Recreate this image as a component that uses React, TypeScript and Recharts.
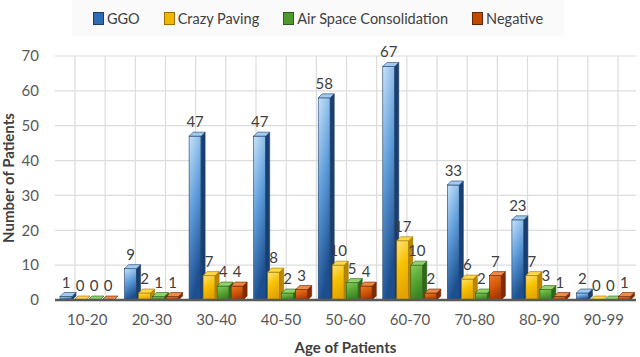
import { BarChart, Bar, XAxis, YAxis, CartesianGrid, LabelList } from "recharts";

const ageGroups = ["10-20", "20-30", "30-40", "40-50", "50-60", "60-70", "70-80", "80-90", "90-99"];
const ggo = [1, 9, 47, 47, 58, 67, 33, 23, 2];
const crazyPaving = [0, 2, 7, 8, 10, 17, 6, 7, 0];
const airSpace = [0, 1, 4, 2, 5, 10, 2, 3, 0];
const negative = [0, 1, 4, 3, 4, 2, 7, 1, 1];
const yTicks = [0, 10, 20, 30, 40, 50, 60, 70];

const data = ageGroups.map((age, i) => ({
  age,
  ggo: ggo[i],
  crazy: crazyPaving[i],
  air: airSpace[i],
  neg: negative[i],
}));

const series = [
  { key: "ggo", name: "GGO", stops: ["#c6e3fb", "#5d9bd9", "#1d4f8f"], top: "#a2cbef", side: "#173f72", stroke: "#1e3d66", icon: "#2e6db4" },
  { key: "crazy", name: "Crazy Paving", stops: ["#ffe27a", "#f7c200", "#e3a200"], top: "#ffd84a", side: "#b98600", stroke: "#9a7000", icon: "#f2b800" },
  { key: "air", name: "Air Space Consolidation", stops: ["#86cc5c", "#5aa836", "#3a8420"], top: "#8fd468", side: "#2e6818", stroke: "#2d5e18", icon: "#4e9a2e" },
  { key: "neg", name: "Negative", stops: ["#ec7a26", "#d45a0a", "#a83600"], top: "#ee8a48", side: "#842a00", stroke: "#6a2400", icon: "#c04a00" },
];

const font = "Lato, 'Open Sans', sans-serif";
const DEPTH = 4;

function bar3d(idx: number) {
  const s = series[idx];
  return (props: any) => {
    const { x, y, width: w, height } = props;
    const h = Math.max(0, height || 0);
    const d = DEPTH;
    return (
      <g>
        {h > 0 && (
          <rect x={x} y={y} width={w} height={h} fill={`url(#grad-${s.key})`} stroke={s.stroke} strokeWidth={0.6} />
        )}
        {h > 0 && (
          <polygon
            points={`${x + w},${y} ${x + w + d},${y - d} ${x + w + d},${y + h - d} ${x + w},${y + h}`}
            fill={s.side}
            stroke={s.stroke}
            strokeWidth={0.6}
          />
        )}
        <polygon
          points={`${x},${y} ${x + w},${y} ${x + w + d},${y - d} ${x + d},${y - d}`}
          fill={s.top}
          stroke={s.stroke}
          strokeWidth={0.6}
        />
      </g>
    );
  };
}

export default function App() {
  return (
    <div style={{ position: "absolute", left: 0, top: 0, width: 640, height: 357, background: "#fff", fontFamily: font }}>
      <div
        style={{
          position: "absolute",
          left: 72,
          top: 0,
          width: 492,
          height: 36,
          background: "#fafafa",
          display: "flex",
          alignItems: "center",
          justifyContent: "center",
          gap: 24,
          fontSize: 14.5,
          color: "#404040",
        }}
      >
        {series.map((s) => (
          <div key={s.key} style={{ display: "flex", alignItems: "center", gap: 3 }}>
            <span style={{ display: "inline-block", width: 9, height: 11, background: s.icon, border: `1px solid ${s.stroke}` }} />
            <span>{s.name}</span>
          </div>
        ))}
      </div>
      <BarChart
        width={640}
        height={357}
        data={data}
        margin={{ top: 56, right: 4, left: 0, bottom: 0 }}
        barSize={12}
        barGap={2}
      >
        <defs>
          {series.map((s) => (
            <linearGradient key={s.key} id={`grad-${s.key}`} x1="0" y1="0" x2="0.3" y2="1">
              <stop offset="0%" stopColor={s.stops[0]} />
              <stop offset="50%" stopColor={s.stops[1]} />
              <stop offset="100%" stopColor={s.stops[2]} />
            </linearGradient>
          ))}
        </defs>
        <CartesianGrid
          stroke="#dcdcdc"
          strokeWidth={1.2}
          verticalCoordinatesGenerator={({ offset }: any) => {
            const l = offset.left + 20;
            const r = offset.left + offset.width - 18;
            return Array.from({ length: 19 }, (_, i) => l + (i * (r - l)) / 18);
          }}
        />
        <XAxis
          dataKey="age"
          height={57}
          tickLine={false}
          axisLine={{ stroke: "#595959", strokeWidth: 2.5 }}
          tickMargin={8}
          tick={{ fill: "#595959", fontSize: 15, fontFamily: font }}
          label={{
            value: "Age of Patients",
            position: "insideBottom",
            offset: 4,
            fill: "#404040",
            fontSize: 15,
            fontWeight: 700,
            fontFamily: font,
          }}
        />
        <YAxis
          width={55}
          domain={[0, 70]}
          ticks={yTicks}
          tickLine={false}
          axisLine={false}
          tickMargin={10}
          tick={{ fill: "#595959", fontSize: 15, fontFamily: font }}
          label={{
            value: "Number of Patients",
            angle: -90,
            position: "insideLeft",
            offset: 9,
            fill: "#404040",
            fontSize: 15,
            fontWeight: 700,
            fontFamily: font,
            style: { textAnchor: "middle" },
          }}
        />
        {series.map((s, i) => (
          <Bar key={s.key} dataKey={s.key} name={s.name} shape={bar3d(i)} isAnimationActive={false}>
            <LabelList dataKey={s.key} position="top" offset={9} fill="#404040" fontSize={15} fontFamily={font} />
          </Bar>
        ))}
      </BarChart>
    </div>
  );
}
